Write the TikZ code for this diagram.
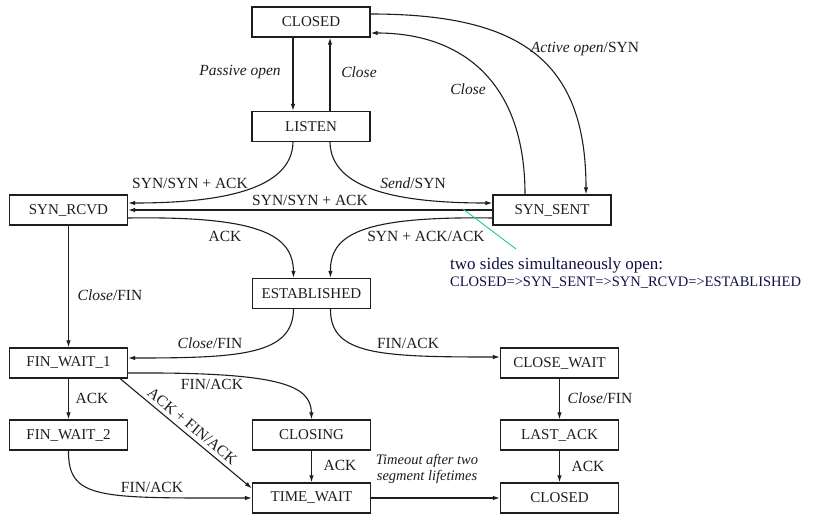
\documentclass[tikz,border=0pt]{standalone}
\usepackage{fontspec}
\setmainfont{Liberation Serif}
\usetikzlibrary{arrows.meta,calc}
\definecolor{ink}{RGB}{30,30,30}
\definecolor{note}{RGB}{15,15,70}
\definecolor{pointer}{RGB}{30,200,160}
\begin{document}
\begin{tikzpicture}[x=1pt,y=-1pt,
  state/.style={draw=ink,line width=1.3pt,minimum width=118pt,minimum height=30pt,inner sep=0pt,
    font=\fontsize{15}{17}\selectfont,text=ink},
  tr/.style={line width=1.1pt,draw=ink,-{Latex[length=7pt,width=4.5pt]}},
  lbl/.style={font=\fontsize{15.5}{17}\selectfont,text=ink,inner sep=0pt},
  notetext/.style={text=note,inner sep=0pt,anchor=west},
]
\useasboundingbox (0,0) rectangle (816,523);
\fill[white] (0,0) rectangle (816,523);

% states
\node[state] (closed)  at (311,22)    {CLOSED};
\node[state] (listen)  at (311,126.5) {LISTEN};
\node[state] (synrcvd) at (68.5,210)  {SYN\_RCVD};
\node[state] (synsent) at (552,210)   {SYN\_SENT};
\node[state] (estab)   at (311.5,293.5) {ESTABLISHED};
\node[state] (fw1)     at (68.5,363)  {FIN\_WAIT\_1};
\node[state] (fw2)     at (68.5,435)  {FIN\_WAIT\_2};
\node[state] (closing) at (311.5,435) {CLOSING};
\node[state] (tw)      at (311.5,498) {TIME\_WAIT};
\node[state] (cw)      at (559.5,363) {CLOSE\_WAIT};
\node[state] (lack)    at (559.5,435) {LAST\_ACK};
\node[state] (closed2) at (559.5,498) {CLOSED};

% transitions
\draw[tr] ($(closed.south)+(-18,0)$) -- ($(listen.north)+(-18,0)$);
\draw[tr] ($(listen.north)+(19,0)$) -- ($(closed.south)+(19,0)$);
\draw[tr] ($(closed.east)+(0,-8)$) .. controls (520,14) and (586,60) .. ($(synsent.north)+(34,0)$);
\draw[tr] ($(synsent.north)+(-27,0)$) .. controls (525,80) and (460,33) .. ($(closed.east)+(0,11)$);
\draw[tr] ($(listen.south)+(-18,0)$) .. controls (292,190) and (220,203) .. ($(synrcvd.east)+(0,-7)$);
\draw[tr] ($(listen.south)+(19,0)$) .. controls (331,190) and (400,203) .. ($(synsent.west)+(0,-7)$);
\draw[tr] (synsent.west) -- (synrcvd.east);
\draw[tr] ($(synrcvd.east)+(0,8)$) .. controls (260,216) and (293,235) .. ($(estab.north)+(-18,0)$);
\draw[tr] ($(synsent.west)+(0,8)$) .. controls (360,216) and (330,235) .. ($(estab.north)+(19,0)$);
\draw[tr] (synrcvd.south) -- (fw1.north);
\draw[tr] ($(estab.south)+(-18,0)$) .. controls (293,355) and (240,358) .. ($(fw1.east)+(0,-5)$);
\draw[tr] ($(estab.south)+(19,0)$) .. controls (330,355) and (380,357) .. ($(cw.west)+(0,-6)$);
\draw[tr] ($(fw1.east)+(0,10)$) .. controls (280,372) and (311,385) .. (closing.north);
\draw[tr] ($(fw1.south east)+(-8,0)$) -- ($(tw.north west)+(0,6)$)
   node[lbl,sloped,midway,above=4pt] {ACK + FIN/ACK};
\draw[tr] (fw1.south) -- (fw2.north);
\draw[tr] (fw2.south) .. controls (68,500) and (100,498) .. (tw.west);
\draw[tr] (closing.south) -- (tw.north);
\draw[tr] (tw.east) -- (closed2.west);
\draw[tr] (cw.south) -- (lack.north);
\draw[tr] (lack.south) -- (closed2.north);

% labels
\node[lbl] (l1)  at (240,72)  {\textit{Passive open}};
\node[lbl] (l2)  at (359,72)  {\textit{Close}};
\node[lbl] (l3)  at (585,49)  {\textit{Active open}/SYN};
\node[lbl] (l4)  at (468,89)  {\textit{Close}};
\node[lbl] (l5)  at (190,183) {SYN/SYN + ACK};
\node[lbl] (l6)  at (310,200) {SYN/SYN + ACK};
\node[lbl] (l7)  at (413,183) {\textit{Send}/SYN};
\node[lbl] (l8)  at (225,236) {ACK};
\node[lbl] (l9)  at (426,236) {SYN + ACK/ACK};
\node[lbl] (l10) at (110,295) {\textit{Close}/FIN};
\node[lbl] (l11) at (210,343) {\textit{Close}/FIN};
\node[lbl] (l12) at (408,343) {FIN/ACK};
\node[lbl] (l13) at (212,384) {FIN/ACK};
\node[lbl] (l15) at (92,398)  {ACK};
\node[lbl] (l16) at (152,487) {FIN/ACK};
\node[lbl] (l17) at (340,465) {ACK};
\node[lbl,align=center,font=\fontsize{14.5}{16}\selectfont\itshape] (l18) at (427,469) {Timeout after two\\segment lifetimes};
\node[lbl] (l19) at (600,398) {\textit{Close}/FIN};
\node[lbl] (l20) at (588,466) {ACK};

% annotation
\coordinate (p1) at (463,209);
\coordinate (p2) at (516,249);
\draw[pointer,line width=0.9pt] (p1) -- (p2);
\node[notetext,font=\fontsize{17}{19}\selectfont] (n1) at (450,265) {two sides simultaneously open:};
\node[notetext,font=\fontsize{14.5}{16}\selectfont] (n2) at (450,283) {CLOSED=>SYN\_SENT=>SYN\_RCVD=>ESTABLISHED};
\end{tikzpicture}
\end{document}
